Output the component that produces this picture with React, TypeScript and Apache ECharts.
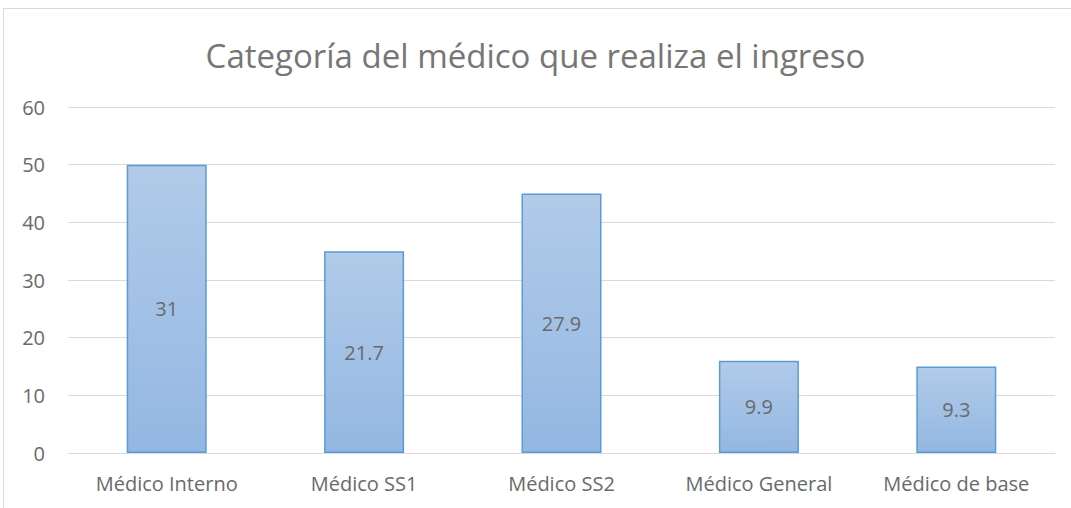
import React, { useEffect, useRef } from "react";
import * as echarts from "echarts";

const categories = ["Médico Interno", "Médico SS1", "Médico SS2", "Médico General", "Médico de base"];
const barHeights = [50, 35, 45, 16, 15];
const labelValues = ["31", "21.7", "27.9", "9.9", "9.3"];
const titleText = "Categoría del médico que realiza el ingreso";

export default function App() {
  const ref = useRef<HTMLDivElement>(null);
  useEffect(() => {
    const chart = echarts.init(ref.current!, null, { renderer: "svg" });
    const font = "'Open Sans', sans-serif";
    chart.setOption({
      animation: false,
      backgroundColor: "#ffffff",
      title: {
        text: titleText,
        left: "center",
        top: 34,
        textStyle: { fontFamily: font, fontSize: 33, fontWeight: "normal", color: "#767676" },
      },
      graphic: [
        {
          type: "rect",
          shape: { x: 3.5, y: 8.5, width: 1080, height: 510 },
          style: { fill: "none", stroke: "#d9d9d9", lineWidth: 1 },
          silent: true,
        },
      ],
      grid: { left: 68, right: 16, top: 107, bottom: 55 },
      xAxis: {
        type: "category",
        data: categories,
        axisLine: { show: true, lineStyle: { color: "#d9d9d9", width: 1 } },
        axisTick: { show: false },
        axisLabel: { color: "#6a6a6a", fontFamily: font, fontSize: 20, margin: 20 },
      },
      yAxis: {
        type: "value",
        min: 0,
        max: 60,
        interval: 10,
        axisLine: { show: false },
        axisTick: { show: false },
        splitLine: { lineStyle: { color: "#d9d9d9", width: 1 } },
        axisLabel: { color: "#6a6a6a", fontFamily: font, fontSize: 20, margin: 23 },
      },
      series: [
        {
          type: "bar",
          data: barHeights,
          barWidth: 80,
          itemStyle: {
            color: new echarts.graphic.LinearGradient(0, 0, 0, 1, [
              { offset: 0, color: "#b1cbe9" },
              { offset: 1, color: "#93b7e2" },
            ]),
            borderColor: "#5b9bd5",
            borderWidth: 1.5,
          },
          label: {
            show: true,
            position: "inside",
            color: "#6a6a6a",
            fontFamily: font,
            fontSize: 20,
            formatter: (p: any) => labelValues[p.dataIndex],
          },
        },
      ],
    });
    return () => chart.dispose();
  }, []);
  return <div ref={ref} style={{ position: "absolute", left: 0, top: 0, width: 1071, height: 508 }} />;
}
